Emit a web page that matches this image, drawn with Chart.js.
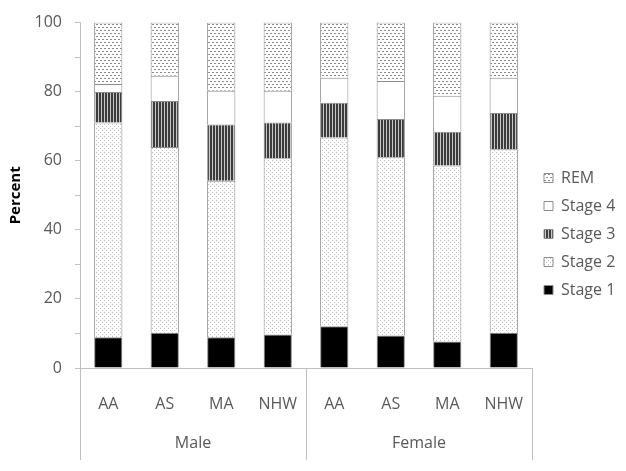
<!DOCTYPE html>
<html>
<head>
<meta charset="utf-8">
<script src="https://cdn.jsdelivr.net/npm/chart.js@4"></script>
<style>
  body { margin: 0; background: #fff; }
</style>
</head>
<body>
<canvas id="sleepChart" width="626" height="471"></canvas>
<script>
// sleep stages by group (percent)
const categories = ["AA", "AS", "MA", "NHW", "AA", "AS", "MA", "NHW"];
const groups = ["Male", "Female"];
const stage1 = [8.9, 10.2, 8.9, 9.7, 12.1, 9.4, 7.7, 10.2];
const stage2 = [62.2, 53.8, 45.3, 51.0, 54.6, 51.6, 50.9, 53.1];
const stage3 = [8.8, 13.3, 16.3, 10.4, 10.1, 11.1, 9.8, 10.5];
const stage4 = [2.3, 7.3, 9.8, 9.2, 7.2, 11.0, 10.4, 10.2];
const rem = [17.8, 15.4, 19.7, 19.7, 16.0, 16.9, 21.2, 16.0];

const ctx = document.getElementById("sleepChart").getContext("2d");
const FONT = "'Open Sans', sans-serif";
const TEXT = "#595959";
const AXIS = "#bfbfbf";
const EDGE = "#8c8c8c";

// small tiles for the hatch fills
function makePattern(w, h, draw) {
  const c = document.createElement("canvas");
  c.width = w; c.height = h;
  const g = c.getContext("2d");
  g.fillStyle = "#fff";
  g.fillRect(0, 0, w, h);
  draw(g);
  return ctx.createPattern(c, "repeat");
}

const remFill = makePattern(4, 6, g => {
  g.fillStyle = "#8a8a8a";
  g.fillRect(0, 0, 2, 1);
  g.fillRect(2, 3, 2, 1);
});
const stage2Fill = makePattern(4, 4, g => {
  g.fillStyle = "#bdbdbd";
  g.fillRect(0, 0, 1, 1);
  g.fillRect(2, 2, 1, 1);
});
const stage3Fill = makePattern(3, 1, g => {
  g.fillStyle = "#3c3c3c";
  g.fillRect(0, 0, 2, 1);
  g.fillStyle = "#c8c8c8";
  g.fillRect(2, 0, 1, 1);
});

function ds(label, data, fill) {
  return {
    label: label,
    data: data,
    backgroundColor: fill,
    borderColor: EDGE,
    borderWidth: 1,
    barPercentage: 0.5,
    categoryPercentage: 1
  };
}

// group labels + long separators under the axis
const groupAxis = {
  id: "groupAxis",
  afterDraw(chart) {
    const x = chart.scales.x;
    const area = chart.chartArea;
    const c = chart.ctx;
    const per = categories.length / groups.length;
    c.save();
    c.strokeStyle = AXIS;
    c.lineWidth = 1;
    for (let i = 0; i <= groups.length; i++) {
      let px;
      if (i === 0) px = area.left;
      else if (i === groups.length) px = area.right;
      else px = (x.getPixelForValue(i * per - 1) + x.getPixelForValue(i * per)) / 2;
      px = Math.round(px) + 0.5;
      c.beginPath();
      c.moveTo(px, area.bottom);
      c.lineTo(px, 460);
      c.stroke();
    }
    c.fillStyle = TEXT;
    c.font = "16px " + FONT;
    c.textAlign = "center";
    c.textBaseline = "middle";
    groups.forEach((name, i) => {
      const mid = (x.getPixelForValue(i * per) + x.getPixelForValue(i * per + per - 1)) / 2;
      c.fillText(name, mid, 443);
    });
    c.restore();
  }
};

// keep the legend column a fixed width so the plot ends where it should,
// and nudge it up a little
const legendPlace = {
  id: "legendPlace",
  afterInit(chart) {
    const lg = chart.legend;
    const fit = lg.fit;
    lg.fit = function () {
      fit.call(this);
      this.width = 94;
    };
  },
  afterLayout(chart) {
    chart.legend.top -= 10;
    chart.legend.bottom -= 10;
  }
};

new Chart(ctx, {
  type: "bar",
  data: {
    labels: categories,
    datasets: [
      ds("Stage 1", stage1, "#000"),
      ds("Stage 2", stage2, stage2Fill),
      ds("Stage 3", stage3, stage3Fill),
      ds("Stage 4", stage4, "#fff"),
      ds("REM", rem, remFill)
    ]
  },
  options: {
    responsive: false,
    animation: false,
    layout: { padding: { top: 17, left: 0, right: 0, bottom: 0 } },
    plugins: {
      legend: {
        position: "right",
        reverse: true,
        labels: {
          boxWidth: 9,
          boxHeight: 9,
          padding: 12,
          color: TEXT,
          font: { family: FONT, size: 16 }
        }
      },
      tooltip: { enabled: false }
    },
    scales: {
      x: {
        stacked: true,
        grid: { display: false },
        border: { color: AXIS },
        ticks: { color: TEXT, padding: 19, font: { family: FONT, size: 16 } },
        afterFit(s) { s.height = 103; }
      },
      y: {
        stacked: true,
        min: 0,
        max: 100,
        grid: { drawOnChartArea: false, drawTicks: true, tickLength: 5, color: AXIS },
        border: { color: AXIS },
        ticks: {
          stepSize: 10,
          padding: 13,
          color: TEXT,
          font: { family: FONT, size: 16 },
          callback: v => (v % 20 === 0 ? v : "")
        },
        title: {
          display: true,
          text: "Percent",
          color: "#000",
          padding: { top: 7, bottom: 0 },
          font: { family: FONT, size: 15, weight: "bold" }
        },
        afterFit(s) { s.width = 80; }
      }
    }
  },
  plugins: [groupAxis, legendPlace]
});
</script>
</body>
</html>
